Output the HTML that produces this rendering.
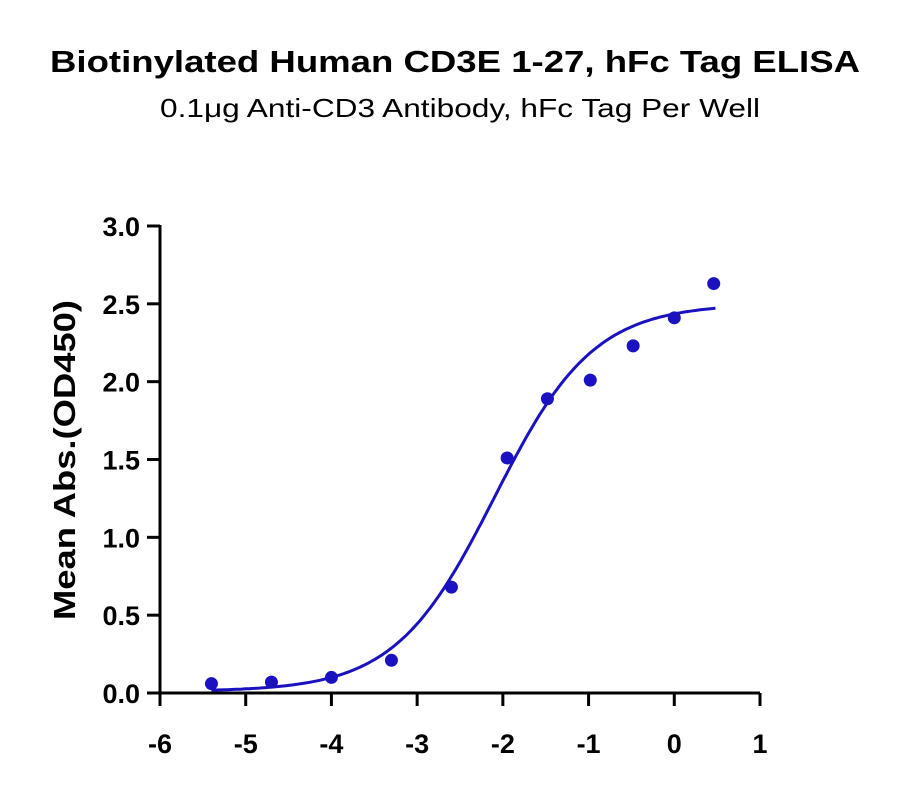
<!DOCTYPE html>
<html><head><meta charset="utf-8"><style>
body{margin:0;background:#fff;}
svg text{font-family:"Liberation Sans",sans-serif;}
</style></head><body>
<svg id="s" width="900" height="786" xmlns="http://www.w3.org/2000/svg">
<text x="455" y="72" text-anchor="middle" font-size="31" font-weight="bold" fill="#000" textLength="810" lengthAdjust="spacingAndGlyphs">Biotinylated Human CD3E 1-27, hFc Tag ELISA</text>
<text x="460" y="117" text-anchor="middle" font-size="26" fill="#000" textLength="600" lengthAdjust="spacingAndGlyphs">0.1μg Anti-CD3 Antibody, hFc Tag Per Well</text>
<g stroke="#000" stroke-width="3" fill="none">
<line x1="160" y1="225" x2="160" y2="694"/>
<line x1="158.5" y1="693" x2="760" y2="693"/>
</g>
<g id="ticks" stroke="#000" stroke-width="3"></g>
<g id="lab" font-size="27" font-weight="bold" fill="#000"></g>
<text transform="translate(75,460) rotate(-90)" text-anchor="middle" font-size="31" font-weight="bold" fill="#000" textLength="320" lengthAdjust="spacingAndGlyphs">Mean Abs.(OD450)</text>
<path id="curve" fill="none" stroke="#1a12c0" stroke-width="3"/>
<g id="pts" fill="#1a12c0"></g>
</svg>
<script>
var ns="http://www.w3.org/2000/svg";
function X(v){return 160+(v+6)*600/7;}
function Y(v){return 693-v*155.67;}
var t=document.getElementById('ticks'),l=document.getElementById('lab');
function el(tag,a,p,txt){var e=document.createElementNS(ns,tag);for(var k in a)e.setAttribute(k,a[k]);if(txt)e.textContent=txt;p.appendChild(e);}
for(var i=0;i<=6;i++){var v=i*0.5,y=Y(v);el('line',{x1:147,y1:y,x2:160,y2:y},t);el('text',{x:140,y:y+10,'text-anchor':'end'},l,v.toFixed(1));}
for(var v=-6;v<=1;v++){var x=X(v);el('line',{x1:x,y1:693,x2:x,y2:706},t);el('text',{x:x,y:753,'text-anchor':'middle'},l,String(v));}
var d="";
for(var i=0;i<=200;i++){var xv=-5.4+i*(5.88/200);var yv=0.01+(2.5-0.01)/(1+Math.pow(10,0.75*(-2.1-xv)));d+=(i?"L":"M")+X(xv).toFixed(1)+","+Y(yv).toFixed(1);}
document.getElementById('curve').setAttribute('d',d);
var P=[[-5.4,0.06],[-4.7,0.07],[-4,0.1],[-3.3,0.21],[-2.6,0.68],[-1.95,1.51],[-1.48,1.89],[-0.98,2.01],[-0.48,2.23],[0,2.41],[0.46,2.63]];
var g=document.getElementById('pts');
P.forEach(function(p){el('circle',{cx:X(p[0]),cy:Y(p[1]),r:6.5},g);});
</script>
</body></html>
